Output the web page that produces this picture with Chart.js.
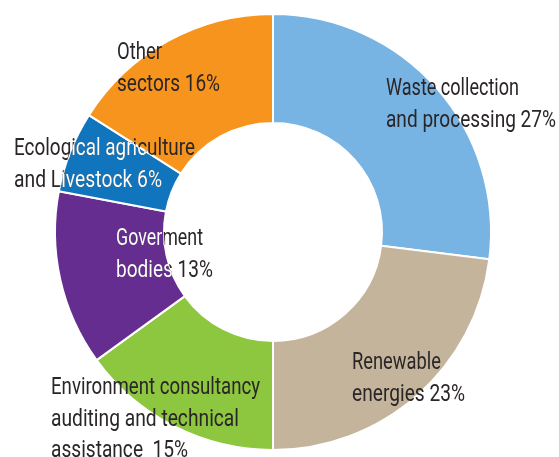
<!DOCTYPE html>
<html>
<head>
<meta charset="utf-8">
<script src="https://cdn.jsdelivr.net/npm/chart.js@4.4.1/dist/chart.umd.min.js"></script>
<style>
  html, body { margin: 0; padding: 0; background: #ffffff; }
  #wrap { width: 559px; height: 457px; }
</style>
</head>
<body>
<div id="wrap"><canvas id="c" width="559" height="457"></canvas></div>
<script>
// ---- data ----
const categories = [
  'Waste collection and processing',
  'Renewable energies',
  'Environment consultancy auditing and technical assistance',
  'Goverment bodies',
  'Ecological agriculture and Livestock',
  'Other sectors'
];
const shares = [27, 23, 15, 13, 6, 16];
const labelLines = [
  ['Waste collection', 'and processing 27%'],
  ['Renewable', 'energies 23%'],
  ['Environment consultancy', 'auditing and technical', 'assistance  15%'],
  ['Goverment', 'bodies 13%'],
  ['Ecological agriculture', 'and Livestock 6%'],
  ['Other', 'sectors 16%']
];

// ---- styles / layout ----
const sliceColors = ['#77b3e3', '#c4b49b', '#8dc63f', '#652d90', '#1075bc', '#f7941d'];
const darkSlices = [3, 4];
const labelLayout = [
  { x: 386, y: 95,  lh: 32,   w: [133, 170] },
  { x: 352, y: 369, lh: 32,   w: [89, 113] },
  { x: 51,  y: 394, lh: 31.5, w: [209, 188, 137] },
  { x: 116, y: 245, lh: 32,   w: [87, 97] },
  { x: 14,  y: 155, lh: 32,   w: [181, 148] },
  { x: 117, y: 59,  lh: 32,   w: [45, 103] }
];
const FONT = '23.5px Roboto, "Liberation Sans", sans-serif';

function drawAllLabels(ctx, color) {
  ctx.font = FONT;
  ctx.fillStyle = color;
  ctx.textBaseline = 'alphabetic';
  ctx.textAlign = 'left';
  labelLines.forEach((lines, i) => {
    const L = labelLayout[i];
    lines.forEach((t, j) => {
      const mw = ctx.measureText(t).width;
      const sx = L.w[j] / mw;
      ctx.save();
      ctx.translate(L.x, L.y + j * L.lh);
      ctx.scale(sx, 1);
      ctx.fillText(t, 0, 0);
      ctx.restore();
    });
  });
}

const labelPlugin = {
  id: 'sliceLabels',
  afterDatasetsDraw(chart) {
    const ctx = chart.ctx;
    ctx.save();
    drawAllLabels(ctx, '#2a2627');
    ctx.restore();
    const meta = chart.getDatasetMeta(0);
    darkSlices.forEach(idx => {
      const arc = meta.data[idx];
      const p = arc.getProps(['x', 'y', 'startAngle', 'endAngle', 'innerRadius', 'outerRadius'], true);
      ctx.save();
      ctx.beginPath();
      ctx.arc(p.x, p.y, p.outerRadius, p.startAngle, p.endAngle);
      ctx.arc(p.x, p.y, p.innerRadius, p.endAngle, p.startAngle, true);
      ctx.closePath();
      ctx.clip();
      drawAllLabels(ctx, '#ffffff');
      ctx.restore();
    });
  }
};

new Chart(document.getElementById('c'), {
  type: 'doughnut',
  data: {
    labels: categories,
    datasets: [{
      data: shares,
      backgroundColor: sliceColors,
      borderColor: '#ffffff',
      borderWidth: 2
    }]
  },
  options: {
    responsive: false,
    devicePixelRatio: 1,
    animation: false,
    cutout: '50%',
    rotation: 0,
    layout: { padding: { top: 13, bottom: 6, left: 0, right: 13 } },
    plugins: {
      legend: { display: false },
      tooltip: { enabled: false }
    }
  },
  plugins: [labelPlugin]
});
</script>
</body>
</html>
